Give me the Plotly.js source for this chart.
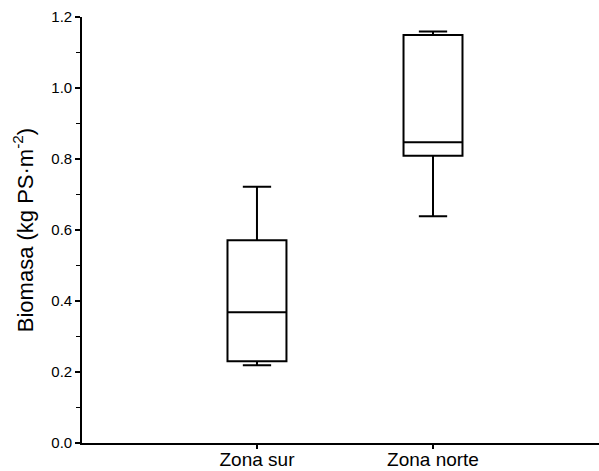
<!DOCTYPE html>
<html>
<head>
<meta charset="utf-8">
<script src="https://cdn.plot.ly/plotly-3.0.1.min.js"></script>
<style>html,body{margin:0;padding:0;background:#fff;}#chart{width:599px;height:471px;}</style>
</head>
<body>
<div id="chart"></div>
<script>
var categories = ["Zona sur", "Zona norte"];
var lowerWhisker = [0.219, 0.639];
var q1Values = [0.230, 0.809];
var medianValues = [0.368, 0.847];
var q3Values = [0.571, 1.149];
var upperWhisker = [0.722, 1.159];
var yTickVals = [0, 0.2, 0.4, 0.6, 0.8, 1.0, 1.2];
var yTickText = ["0.0", "0.2", "0.4", "0.6", "0.8", "1.0", "1.2"];

var trace = {
  type: "box",
  x: categories,
  q1: q1Values,
  median: medianValues,
  q3: q3Values,
  lowerfence: lowerWhisker,
  upperfence: upperWhisker,
  width: 0.335,
  whiskerwidth: 0.48,
  fillcolor: "rgba(255,255,255,0)",
  line: {color: "#000", width: 2},
  boxpoints: false,
  hoverinfo: "none",
  showlegend: false
};

var layout = {
  width: 599, height: 471,
  margin: {l: 82, r: 0, t: 17, b: 28},
  paper_bgcolor: "#fff", plot_bgcolor: "#fff",
  font: {family: "Arial, Liberation Sans, sans-serif", color: "#000"},
  xaxis: {
    type: "category",
    range: [-0.994, 1.943],
    showline: true, linecolor: "#000", linewidth: 1.8,
    ticks: "outside", ticklen: 4, tickwidth: 1.5, tickcolor: "#000",
    tickfont: {size: 19, color: "#000"},
    ticklabelstandoff: -6,
    showgrid: false, zeroline: false, automargin: false, fixedrange: true
  },
  yaxis: {
    range: [0, 1.2],
    tickvals: yTickVals,
    ticktext: yTickText,
    showline: true, linecolor: "#000", linewidth: 1.8,
    ticks: "outside", ticklen: 5, tickwidth: 1.5, tickcolor: "#000",
    minor: {dtick: 0.1, tick0: 0, ticks: "outside", ticklen: 4, tickwidth: 1.2, tickcolor: "#000", showgrid: false},
    tickfont: {size: 15, color: "#000"},
    title: {text: "Biomasa (kg PS·m<sup>-2</sup>)", font: {size: 22, color: "#000"}, standoff: 12},
    showgrid: false, zeroline: false, automargin: false, fixedrange: true
  }
};

Plotly.newPlot("chart", [trace], layout, {displayModeBar: false, staticPlot: true});
</script>
</body>
</html>
